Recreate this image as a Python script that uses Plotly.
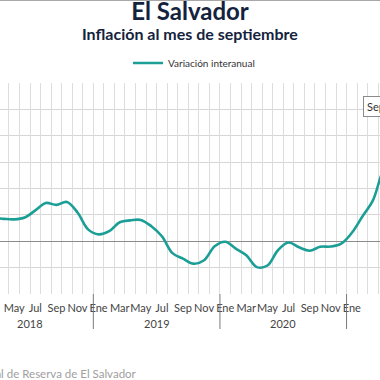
import plotly.graph_objects as go

# ---- data ----
month_names = ["Ene", "Feb", "Mar", "Abr", "May", "Jun", "Jul", "Ago", "Sep", "Oct", "Nov", "Dic"]
years = ["2018", "2019", "2020", "2021"]
values_2018 = [0.95, 0.90, 0.89, 0.85, 0.83, 0.90, 1.17, 1.45, 1.38, 1.49, 1.09, 0.45]
values_2019 = [0.26, 0.38, 0.72, 0.79, 0.81, 0.57, 0.19, -0.45, -0.66, -0.85, -0.72, -0.19]
values_2020 = [-0.02, -0.28, -0.53, -0.98, -0.92, -0.34, -0.05, -0.23, -0.36, -0.21, -0.20, -0.09]
values_2021 = [0.32, 0.94, 1.55, 2.70, 3.20, 3.50, 3.90, 5.00, 6.00]

series = values_2018 + values_2019 + values_2020 + values_2021
idx = list(range(len(series)))
labels = [f"{month_names[i % 12]} {years[i // 12]}" for i in idx]

FONT = "Lato"
TEAL = "#1a9e96"
NAVY = "#14233d"
X_RANGE = [2.654, 38.67]

fig = go.Figure()
fig.add_trace(go.Scatter(
    x=idx, y=series, mode="lines", name="Variación interanual",
    line=dict(color=TEAL, width=2.6, shape="spline", smoothing=1),
    text=labels, hovertemplate="%{text}: %{y:.2f}%<extra></extra>",
))

# ticks: labels every other month at month centers; grid at month boundaries
tick_vals = [i for i in range(0, 48) if i % 2 == 0]
tick_text = [month_names[i % 12] for i in tick_vals]
bounds = [i + 0.5 for i in range(-1, 48)]

plot_h = 211.0
def py(pix):  # figure pixel y -> paper y
    return (294 - pix) / plot_h

shapes = []
annotations = []
for k, yr in enumerate(years):
    if k > 0:
        shapes.append(dict(type="line", xref="x", yref="paper",
                           x0=12 * k - 0.5, x1=12 * k - 0.5, y0=0, y1=py(329),
                           line=dict(color="#7a7a7a", width=1)))
    annotations.append(dict(text=yr, xref="x", yref="paper", x=12 * k + 5.5, y=py(323),
                            showarrow=False, font=dict(family=FONT, size=11, color="#444444"),
                            yanchor="middle"))

# top border line
shapes.append(dict(type="line", xref="paper", yref="paper", x0=0, x1=1,
                   y0=py(0.5), y1=py(0.5), line=dict(color="#a8a8a8", width=1)))

annotations.append(dict(text="<b>Inflación al mes de septiembre</b>", xref="paper", yref="paper",
                        x=0.5, y=py(34), showarrow=False, yanchor="middle",
                        font=dict(family=FONT, size=16, color=NAVY)))
annotations.append(dict(text="Fuente: Banco Central de Reserva de El Salvador", xref="paper",
                        yref="paper", x=139 / 380, y=py(373), xanchor="right", yanchor="middle",
                        showarrow=False, font=dict(family=FONT, size=11.5, color="#a0a0a0")))
annotations.append(dict(text="Sep 2021: 6.00%", xref="paper", yref="paper", x=363 / 380,
                        y=py(107), xanchor="left", yanchor="middle", showarrow=False,
                        bgcolor="white", bordercolor="#8a8a8a", borderwidth=1, borderpad=3,
                        font=dict(family=FONT, size=11, color="#333333")))

fig.update_layout(
    width=380, height=380,
    margin=dict(l=0, r=0, t=83, b=86),
    paper_bgcolor="white", plot_bgcolor="white",
    title=dict(text="<b>El Salvador</b>", x=0.5, xanchor="center", y=1 - 12 / 380,
               yanchor="middle", font=dict(family=FONT, size=24, color=NAVY)),
    showlegend=True,
    legend=dict(orientation="h", x=128 / 380, xanchor="left", y=py(63), yanchor="middle",
                font=dict(family=FONT, size=10, color="#333333"), bgcolor="rgba(0,0,0,0)"),
    shapes=shapes, annotations=annotations,
    hovermode="closest",
    xaxis=dict(
        range=X_RANGE, tickmode="array", tickvals=tick_vals, ticktext=tick_text,
        tickangle=0, showgrid=False, ticks="", zeroline=False, showline=False,
        ticklabelstandoff=6,
        tickfont=dict(family=FONT, size=11, color="#444444"),
    ),
    # overlay axis that only carries the month-boundary gridlines
    xaxis2=dict(
        range=X_RANGE, overlaying="x", side="bottom", tickmode="array", tickvals=bounds,
        showticklabels=False, showgrid=True, gridcolor="#dddddd", gridwidth=1,
        ticks="", zeroline=False, showline=False, layer="below traces",
    ),
    yaxis=dict(
        range=[-2, 6], dtick=1, tick0=0, showticklabels=False, ticks="",
        showgrid=True, gridcolor="#d6d6d6", gridwidth=1,
        zeroline=True, zerolinecolor="#8c8c8c", zerolinewidth=1,
        showline=True, linecolor="#d6d6d6", mirror=True,
    ),
)
# invisible helper trace so the overlay axis is drawn
fig.add_trace(go.Scatter(x=[X_RANGE[0]], y=[None], xaxis="x2", yaxis="y",
                         showlegend=False, hoverinfo="skip", mode="lines"))

fig.write_html("out.html", config={"displayModeBar": False},
               post_script="document.body.style.margin='0';")
